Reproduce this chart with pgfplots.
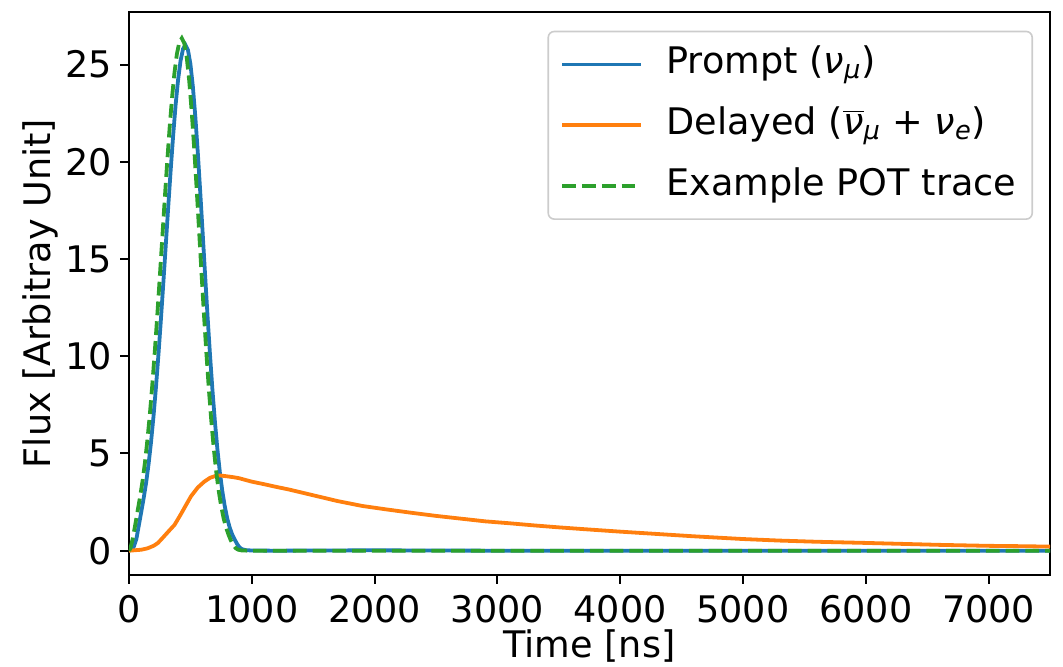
\documentclass[border=0pt]{standalone}
\usepackage{fontspec}
\setmainfont{DejaVu Sans}
\usepackage{pgfplots}
\pgfplotsset{compat=1.18}
\definecolor{c0}{HTML}{1F77B4}
\definecolor{c1}{HTML}{FF7F0E}
\definecolor{c2}{HTML}{2CA02C}
\begin{document}
\begin{tikzpicture}
\begin{axis}[
  scale only axis,
  width=460.5pt, height=281.5pt,
  xmin=0, xmax=7500, ymin=-1.25, ymax=27.7,
  xtick={0,1000,...,7000}, ytick={0,5,...,25},
  scaled x ticks=false,
  /pgf/number format/assume math mode=true,
  /pgf/number format/1000 sep={},
  tick align=outside, major tick length=4.4pt,
  every tick/.style={black, line width=1pt},
  axis line style={line width=1pt},
  xtick pos=bottom, ytick pos=left,
  ticklabel style={font=\fontsize{18.3}{22}\selectfont, inner sep=0pt},
  xticklabel style={anchor=north, yshift=-5.5pt},
  yticklabel style={anchor=east, xshift=-4pt},
  xlabel={Time [ns]}, ylabel={Flux [Arbitray Unit]},
  label style={font=\fontsize{18.3}{22}\selectfont},
  xlabel style={at={(axis description cs:0.5,0)}, anchor=center, yshift=-35.5pt},
  ylabel style={at={(axis description cs:0,0.5)}, anchor=center, yshift=44.5pt},
  legend style={at={(1,1)}, anchor=north east, xshift=-8.5pt, yshift=-9.35pt,
    draw=black!20, line width=0.8pt, fill=white, fill opacity=0.8, text opacity=1,
    rounded corners=3pt, font=\fontsize{18.3}{22}\selectfont,
    inner xsep=6pt, inner ysep=7.5pt, row sep=12.4pt, column sep=12pt,
    nodes={inner sep=0pt, text height=13.5pt, text depth=4.5pt}},
  legend cell align=left,
  legend image code/.code={\draw[#1] (0pt,0pt) -- (39.2pt,0pt);},
]
\addplot[c0, line width=1.9pt] coordinates {
(0,0) (20,0.04) (40,0.22) (60,0.6) (80,1.3) (100,2.0) (120,2.72) (140,3.52) (160,4.48)
(180,5.62) (200,6.94) (220,8.44) (240,10.10) (260,11.90) (280,13.81) (300,15.77)
(320,17.73) (340,19.62) (360,21.39) (380,22.95) (400,24.23) (420,25.20) (440,25.80)
(460,26.00) (480,25.75) (500,25.03) (520,23.87) (540,22.33) (560,20.50) (580,18.46)
(600,16.32) (620,14.14) (640,12.03) (660,10.04) (680,8.22) (700,6.61) (720,5.21)
(740,4.03) (760,3.06) (780,2.28) (800,1.66) (820,1.19) (840,0.84) (860,0.58)
(880,0.35) (900,0.17) (920,0.08) (950,0.03) (1000,0.01) (1200,0.0) (1500,0.01)
(2000,0.02) (2500,0.01) (3000,0.0) (5000,0.0) (7500,0.0)
};
\addlegendentry{Prompt (\textit{ν}\textsubscript{\textit{μ}})\hspace*{2pt}}
\addplot[c1, line width=1.9pt] coordinates {
(0,0) (100,0.05) (150,0.12) (200,0.25) (236,0.4) (280,0.7) (330,1.05) (371,1.33)
(420,1.85) (460,2.3) (505,2.8) (560,3.25) (613,3.55) (660,3.75) (707,3.85) (740,3.87)
(780,3.84) (850,3.78) (895,3.73) (1000,3.55) (1100,3.42) (1200,3.28) (1300,3.15)
(1500,2.85) (1700,2.55) (1900,2.3) (2100,2.12) (2300,1.95) (2500,1.79) (2700,1.65)
(2900,1.51) (3100,1.41) (3300,1.30) (3500,1.20) (3700,1.11) (4000,0.98) (4300,0.86)
(4600,0.74) (5000,0.60) (5300,0.52) (5600,0.46) (6000,0.40) (6300,0.35) (6600,0.30)
(7000,0.25) (7300,0.23) (7500,0.21)
};
\addlegendentry{Delayed ($\overline{\mbox{\textit{ν}}}$\textsubscript{\textit{μ}} + \textit{ν}\textsubscript{\textit{e}})\hspace*{2pt}}
\addplot[c2, line width=1.9pt, dash pattern=on 6.9pt off 3pt] coordinates {
(0,0) (10,0.1) (30,0.6) (50,1.3) (70,2.04) (90,2.76) (110,3.57) (130,4.54) (150,5.70)
(170,7.03) (190,8.55) (210,10.24) (230,12.06) (250,14.0) (270,15.98) (290,17.97)
(310,19.89) (330,21.68) (350,23.26) (370,24.56) (390,25.54) (410,26.15) (430,26.35)
(450,26.10) (470,25.37) (490,24.19) (510,22.63) (530,20.78) (550,18.71) (570,16.54)
(590,14.33) (610,12.19) (630,10.18) (650,8.33) (670,6.70) (690,5.28) (710,4.08)
(730,3.10) (750,2.31) (770,1.68) (790,1.2) (810,0.83) (830,0.52) (850,0.28) (870,0.12)
(890,0.05) (920,0.01) (1000,0) (7500,0)
};
\addlegendentry{Example POT trace\hspace*{2pt}}
\end{axis}
\pgfresetboundingbox
\useasboundingbox ([shift={(-64.5pt,-45.5pt)}]current axis.south west) rectangle ([shift={(6.5pt,6pt)}]current axis.north east);
\end{tikzpicture}
\end{document}
